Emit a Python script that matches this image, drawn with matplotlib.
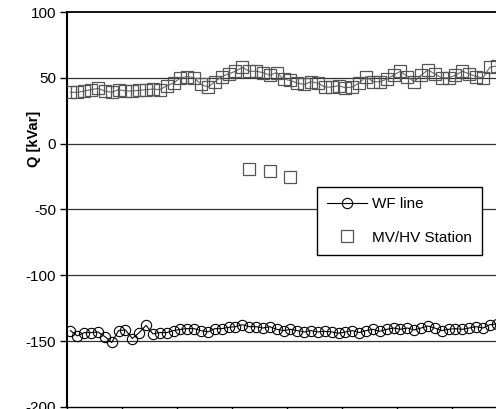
import numpy as np
import matplotlib
matplotlib.use("Agg")
import matplotlib.pyplot as plt

plt.rcParams["font.family"] = ["Liberation Sans", "DejaVu Sans"]
plt.rcParams["axes.unicode_minus"] = False

# sample index (64 samples)
sample = np.arange(64)

# WF line reactive power [kVar]
wf_line = [-142, -146, -143.5, -143.5, -143, -146.5, -151, -142, -141.5, -148,
           -143.5, -138, -144.5, -143.5, -143.5, -142, -141, -140.5, -140.5, -142,
           -143, -140.5, -140.5, -139.5, -139, -137.5, -139, -139, -140, -139,
           -141, -142, -141, -142, -143, -142, -143, -142.5, -143, -144,
           -143, -142, -143.5, -142, -141, -142.5, -141, -140, -141, -140,
           -141.5, -140, -138.5, -140, -142, -141, -140.5, -141, -140, -139,
           -140, -137.5, -137, -138]

# MV/HV station reactive power [kVar]
station = [39, 39, 40, 41, 42, 40, 39, 41, 40, 40,
           40.5, 41, 41.5, 41, 44, 46, 50, 51, 50, 45,
           43, 47, 51, 53, 55, 58, 55, 55, 54, 52,
           54, 49, 48, 46, 45, 47, 46, 43, 43, 44,
           42.5, 43, 46, 51, 47, 47, 49, 52, 55, 51,
           47, 52, 56, 53, 50, 50, 52, 55, 53, 51,
           50, 58, 59, 60]

# isolated station readings
outlier_x = [26, 29, 32]
outlier_q = [-19, -21, -25]

fig = plt.figure(figsize=(4.96, 4.09), dpi=100)
ax = fig.add_axes([67 / 496, 2 / 409, 440 / 496, 395 / 409])

for yv in [50, 0, -50, -100, -150]:
    ax.axhline(yv, color="#333333", lw=0.9, zorder=1)

ax.plot(sample, station, color="#666666", lw=0.8, zorder=2)
ax.plot(sample, wf_line, color="black", lw=0.8, marker="o", ms=7.4,
        mfc="none", mec="black", mew=0.8, label="WF line", zorder=3)
ax.plot(sample, station, ls="none", marker="s", ms=8.2, mfc="none",
        mec="#555555", mew=0.9, label="MV/HV Station", zorder=3)
ax.plot(outlier_x, outlier_q, ls="none", marker="s", ms=8.2, mfc="none",
        mec="#555555", mew=0.9, zorder=3)

ax.set_xlim(-0.5, 63.5)
ax.set_ylim(-200, 100)
ax.set_yticks([100, 50, 0, -50, -100, -150, -200])
ax.set_xticks(np.arange(-0.5, 64, 8))
ax.set_xticklabels([])
ax.tick_params(axis="y", direction="out", length=5, width=1, labelsize=11, pad=3)
ax.tick_params(axis="x", direction="out", length=4, width=1)
ax.set_ylabel("Q [kVar]", fontsize=10.5, fontweight="bold")
ax.yaxis.set_label_coords(-0.058, 0.678)

ax.spines["right"].set_visible(False)
ax.spines["left"].set_linewidth(1.5)
ax.spines["top"].set_linewidth(1.3)
ax.spines["bottom"].set_linewidth(1.0)

leg = ax.legend(loc="upper left", bbox_to_anchor=(0.568, 0.557), fontsize=11,
                frameon=True, fancybox=False, edgecolor="black", framealpha=1,
                handlelength=2.6, handletextpad=0.35, labelspacing=1.3,
                borderpad=0.65, borderaxespad=0)
leg.get_frame().set_linewidth(1.0)

fig.savefig("out.png", dpi=100)
